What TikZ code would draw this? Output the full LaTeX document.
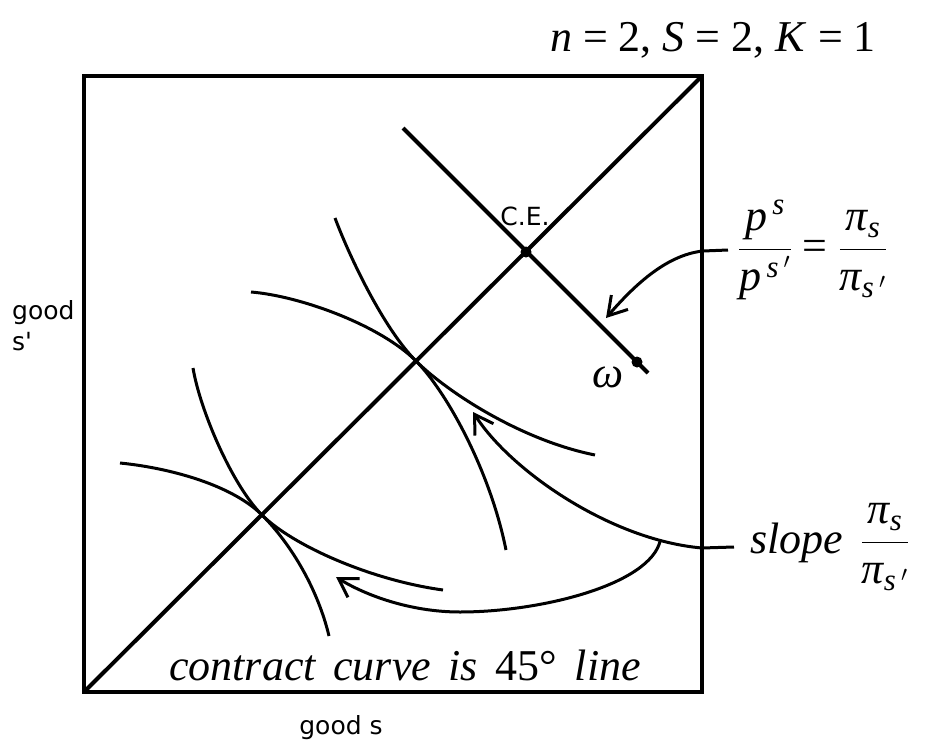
\RequirePackage{fix-cm}
\documentclass[tikz,border=0pt]{standalone}
\usepackage{amsmath}
\usepackage{fontspec}
\setmainfont{Liberation Serif}
\newfontfamily\sanslabel{DejaVu Sans}
\usetikzlibrary{arrows.meta, calc}
\newcommand{\tv}[1]{\text{\itshape #1}}

\begin{document}
\begin{tikzpicture}[
    x=1pt, y=-1pt,
    >={Straight Barb[length=18pt, width=22pt]}, % open V heads
    frame/.style={draw=black, line width=4.5pt},
    mainline/.style={line width=4pt},
    icurve/.style={line width=3pt},
    pointer/.style={->, line width=3pt},
    dot/.style={circle, fill=black, inner sep=0pt, minimum size=11pt},
    serif/.style={font=\fontsize{44}{52}\selectfont, inner sep=0pt},
    sans/.style={font=\sanslabel\fontsize{25}{31}\selectfont, inner sep=0pt}
]
    \useasboundingbox (0,0) rectangle (927,744);

    % =======================================================
    % EDGEWORTH BOX AND CONTRACT CURVE
    % =======================================================
    \coordinate (boxSW) at (84,692);
    \coordinate (boxNE) at (702,76);
    \draw[frame] (boxSW) rectangle (boxNE);
    \draw[mainline] (boxSW) -- (boxNE);

    % Budget line through the endowment
    \coordinate (budTop) at (403,128);
    \coordinate (budEnd) at (648,373);
    \draw[mainline] (budTop) -- (budEnd);
    \node[dot] (ce) at (526,252) {};
    \node[dot] (omega) at (637,362) {};

    % Tangency points on the diagonal
    \coordinate (tanHi) at (416,361);
    \coordinate (tanLo) at (262,515);

    % Indifference curves (upper pair)
    \draw[icurve] (335,218) .. controls (350,258) and (384,329) .. (tanHi)
                  .. controls (446,391) and (520,440) .. (595,455);
    \draw[icurve] (251,292) .. controls (300,296) and (380,325) .. (tanHi)
                  .. controls (446,391) and (490,470) .. (506,550);

    % Indifference curves (lower pair)
    \draw[icurve] (120,463) .. controls (170,468) and (232,485) .. (tanLo)
                  .. controls (292,545) and (318,590) .. (329,636);
    \draw[icurve] (193,368) .. controls (200,410) and (232,485) .. (tanLo)
                  .. controls (292,545) and (370,580) .. (443,590);

    % =======================================================
    % LABELS
    % =======================================================
    \node[serif] (title) at (713,40) {\textit{n} = 2, \textit{S} = 2, \textit{K} = 1};
    \node[sans] (ceLbl) at (525,216) {C.E.};
    \node[serif] (omegaLbl) at (608,377) {\textit{ω}};
    \node[sans, align=left, anchor=west] (goodSp) at (12,326) {good\\s'};
    \node[sans] (goodS) at (341,728) {good s};
    \node[serif] (ccLbl) at (405,665)
        {\spaceskip=0.4em\textit{contract curve is {\upshape 45°} line}};

    \node[serif, anchor=west, inner xsep=10pt] (priceLbl) at (728,250)
        {$\dfrac{\tv{p}^{\,\tv{s}}}{\tv{p}^{\,\tv{s}\,'}}\text{ = }\dfrac{\tv{π}_{\tv{s}}}{\tv{π}_{\tv{s}\,'}}$};
    \node[serif, anchor=west, inner xsep=16pt] (slopeLbl) at (734,547)
        {\textit{slope}\hspace{0.4em}$\dfrac{\tv{π}_{\tv{s}}}{\tv{π}_{\tv{s}\,'}}$};

    % =======================================================
    % POINTER ARROWS
    % =======================================================
    \coordinate (priceEdge) at (703,251);
    \coordinate (priceTip) at (606,318);
    \draw[pointer] (priceLbl.west) -- (priceEdge)
        .. controls (665,255) and (632,288) .. (priceTip);

    \coordinate (slopeEdge) at (702,548);
    \coordinate (hiTip) at (473,412);
    \coordinate (loTip) at (336,577);
    \draw[pointer] (slopeLbl.west) -- (slopeEdge)
        .. controls (610,540) and (510,470) .. coordinate[pos=0.15] (fork) (hiTip);
    \draw[pointer] (fork) .. controls (650,585) and (540,612) .. (460,612)
        .. controls (410,612) and (365,595) .. (loTip);

\end{tikzpicture}
\end{document}
